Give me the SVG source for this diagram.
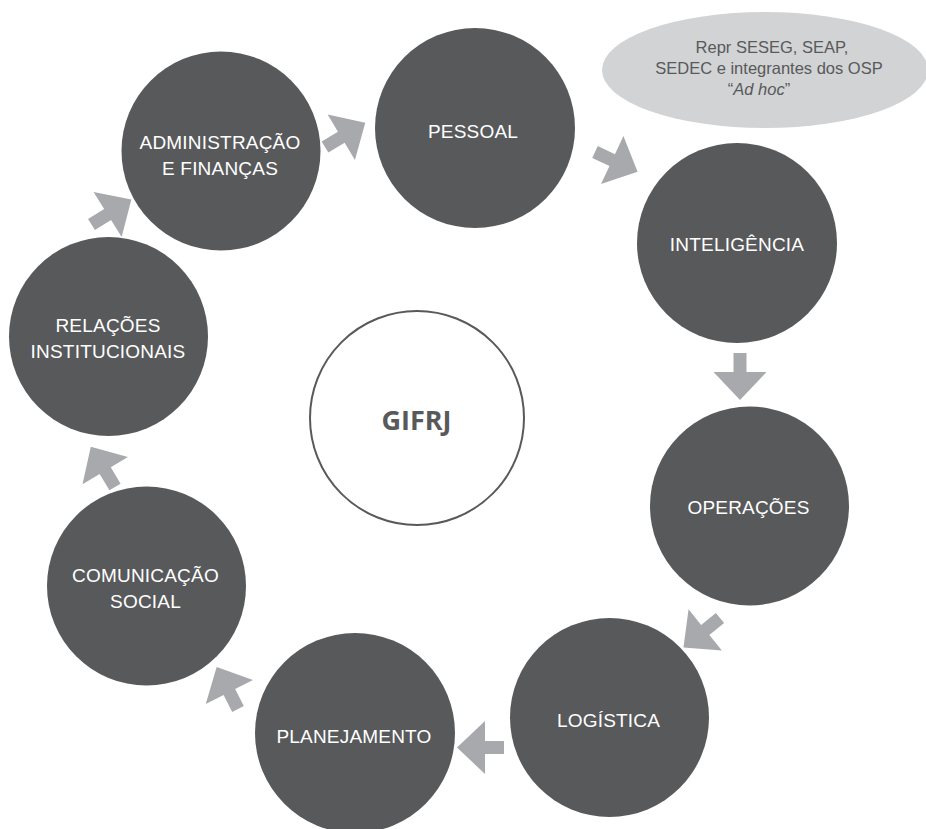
<svg xmlns="http://www.w3.org/2000/svg" xmlns:xlink="http://www.w3.org/1999/xlink" width="926" height="829" viewBox="0 0 926 829">
  <style>
    .node { fill: #58595b; }
    .label { font-family: "Liberation Sans", Arial, Helvetica, sans-serif; font-size: 19px; letter-spacing: 0.2px; fill: #ffffff; text-anchor: middle; }
    .arrow { fill: #a7a9ac; }
    .note { fill: #d1d3d4; }
    .note-text { font-family: "Liberation Sans", Arial, Helvetica, sans-serif; font-size: 16.5px; fill: #58595b; text-anchor: middle; }
    .hub { fill: #ffffff; stroke: #58595b; stroke-width: 2; }
    .hub-text { font-family: "Open Sans", "Noto Sans", sans-serif; font-weight: 700; font-size: 27px; fill: #58595b; text-anchor: middle; }
  </style>
  <defs>
    <!-- block arrow pointing along +x, origin at the middle of its tail -->
    <path id="block-arrow" d="M0,-6.5 H19 V-26.5 L47,0 L19,26.5 V6.5 H0 Z"/>
  </defs>

  <rect width="926" height="829" fill="#ffffff"/>

  <!-- note balloon -->
  <g id="note-adhoc">
    <ellipse class="note" cx="765" cy="70" rx="163" ry="58"/>
    <text class="note-text" x="772" y="53">Repr SESEG, SEAP,</text>
    <text class="note-text" x="769" y="74">SEDEC e integrantes dos OSP</text>
    <text class="note-text" x="759" y="95">“<tspan font-style="italic">Ad hoc</tspan>”</text>
  </g>

  <!-- cycle arrows -->
  <g id="connectors" class="arrow">
    <use xlink:href="#block-arrow" transform="translate(325,147) rotate(-31)"/>
    <use xlink:href="#block-arrow" transform="translate(595,152) rotate(25)"/>
    <use xlink:href="#block-arrow" transform="translate(740,353) rotate(90)"/>
    <use xlink:href="#block-arrow" transform="translate(720,618) rotate(141)"/>
    <use xlink:href="#block-arrow" transform="translate(504,747.5) rotate(180)"/>
    <use xlink:href="#block-arrow" transform="translate(238,709) rotate(-117)"/>
    <use xlink:href="#block-arrow" transform="translate(115,487) rotate(-121)"/>
    <use xlink:href="#block-arrow" transform="translate(91.5,224.5) rotate(-32)"/>
  </g>

  <g id="node-administracao">
    <circle class="node" cx="221" cy="151" r="99.5"/>
    <text class="label" x="220" y="149">ADMINISTRAÇÃO</text>
    <text class="label" x="220" y="175">E FINANÇAS</text>
  </g>

  <g id="node-pessoal">
    <circle class="node" cx="475" cy="128" r="100"/>
    <text class="label" x="473" y="138">PESSOAL</text>
  </g>

  <g id="node-inteligencia">
    <circle class="node" cx="737" cy="243" r="100"/>
    <text class="label" x="737" y="251">INTELIGÊNCIA</text>
  </g>

  <g id="node-operacoes">
    <circle class="node" cx="749.5" cy="506" r="99.5"/>
    <text class="label" x="748.5" y="514">OPERAÇÕES</text>
  </g>

  <g id="node-logistica">
    <circle class="node" cx="609.5" cy="717.5" r="99.5"/>
    <text class="label" x="608.5" y="727">LOGÍSTICA</text>
  </g>

  <g id="node-planejamento">
    <circle class="node" cx="355" cy="733" r="100"/>
    <text class="label" x="354" y="743">PLANEJAMENTO</text>
  </g>

  <g id="node-comunicacao">
    <circle class="node" cx="146.5" cy="586" r="99.5"/>
    <text class="label" x="145.5" y="582">COMUNICAÇÃO</text>
    <text class="label" x="145.5" y="608">SOCIAL</text>
  </g>

  <g id="node-relacoes">
    <circle class="node" cx="108.5" cy="336.5" r="99.5"/>
    <text class="label" x="108" y="332">RELAÇÕES</text>
    <text class="label" x="108" y="358">INSTITUCIONAIS</text>
  </g>

  <g id="node-gifrj">
    <circle class="hub" cx="417" cy="418" r="107"/>
    <text class="hub-text" x="416.5" y="430">GIFRJ</text>
  </g>
</svg>
